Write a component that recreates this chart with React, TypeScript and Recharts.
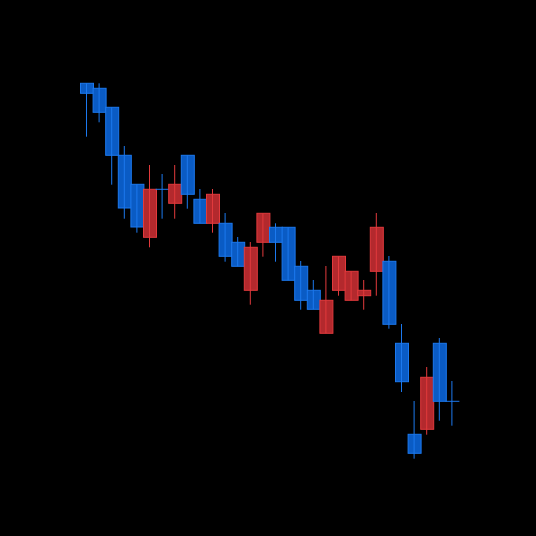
import React from 'react';
import { ComposedChart, Bar, XAxis, YAxis } from 'recharts';

// 30 sessions, values
const opens = [
  516.7, 511.7, 492.7, 444.7, 415.7, 362.7, 410.7, 396.7, 444.7, 400.7,
  376.7, 376.7, 357.7, 309.7, 357.7, 372.7, 372.7, 333.7, 309.7, 266.7,
  309.7, 299.7, 304.3, 328.7, 338.7, 256.7, 165.7, 170.7, 256.7, 198.7,
];
const closes = [
  506.7, 487.7, 444.7, 392.0, 373.0, 410.7, 410.7, 415.7, 405.7, 376.7,
  405.7, 343.7, 333.7, 352.7, 386.7, 357.7, 319.7, 299.7, 290.7, 299.7,
  343.7, 328.7, 309.7, 372.7, 275.7, 218.3, 146.7, 222.7, 198.7, 198.7,
];
const highs = [
  516.7, 516.7, 492.7, 454.0, 415.7, 435.0, 426.0, 435.0, 444.7, 411.0,
  411.0, 387.0, 363.0, 358.0, 386.7, 376.7, 372.7, 339.0, 320.0, 334.0,
  343.7, 328.7, 320.0, 387.0, 344.0, 276.0, 199.0, 233.0, 262.0, 219.0,
];
const lows = [
  463.3, 477.7, 415.3, 381.3, 367.3, 352.7, 381.3, 381.3, 391.3, 376.7,
  367.3, 338.3, 333.7, 295.3, 343.3, 338.3, 319.7, 290.3, 290.7, 266.7,
  304.3, 299.7, 290.3, 304.3, 271.3, 208.0, 141.3, 165.3, 179.3, 174.3,
];

const data = opens.map((o, i) => ({
  i,
  open: o,
  close: closes[i],
  high: highs[i],
  low: lows[i],
}));

const UP = { fill: '#b3292d', stroke: '#e23a3c' };
const DOWN = { fill: '#0a5bc4', stroke: '#1c79ee' };

const Candle = (props: any) => {
  const { x, y, width, height, payload } = props;
  const { open, close, high, low } = payload;
  const span = high - low || 1;
  const yOf = (v: number) => y + ((high - v) / span) * height;
  const c = close > open ? UP : DOWN;
  const cx = x + width / 2;
  const top = yOf(Math.max(open, close));
  const bot = yOf(Math.min(open, close));
  return (
    <g>
      <rect
        x={x + 0.5}
        y={top}
        width={width}
        height={Math.max(bot - top, 0)}
        fill={c.fill}
        stroke={c.stroke}
        strokeWidth={1}
      />
      {bot - top < 1 && (
        <line x1={x} x2={x + width + 1} y1={top} y2={top} stroke={c.stroke} />
      )}
      <line x1={cx} x2={cx} y1={y} y2={y + height} stroke={c.stroke} strokeWidth={1} />
    </g>
  );
};

export default function App() {
  return (
    <div style={{ position: 'absolute', left: 0, top: 0, width: 536, height: 536, background: '#000' }}>
      <ComposedChart
        width={536}
        height={536}
        data={data}
        margin={{ top: 0, right: 78, bottom: 0, left: 80 }}
        barCategoryGap={0}
      >
        <XAxis dataKey="i" hide />
        <YAxis hide domain={[64, 600]} />
        <Bar
          dataKey={(d: any) => [d.low, d.high]}
          shape={<Candle />}
          isAnimationActive={false}
        />
      </ComposedChart>
    </div>
  );
}
